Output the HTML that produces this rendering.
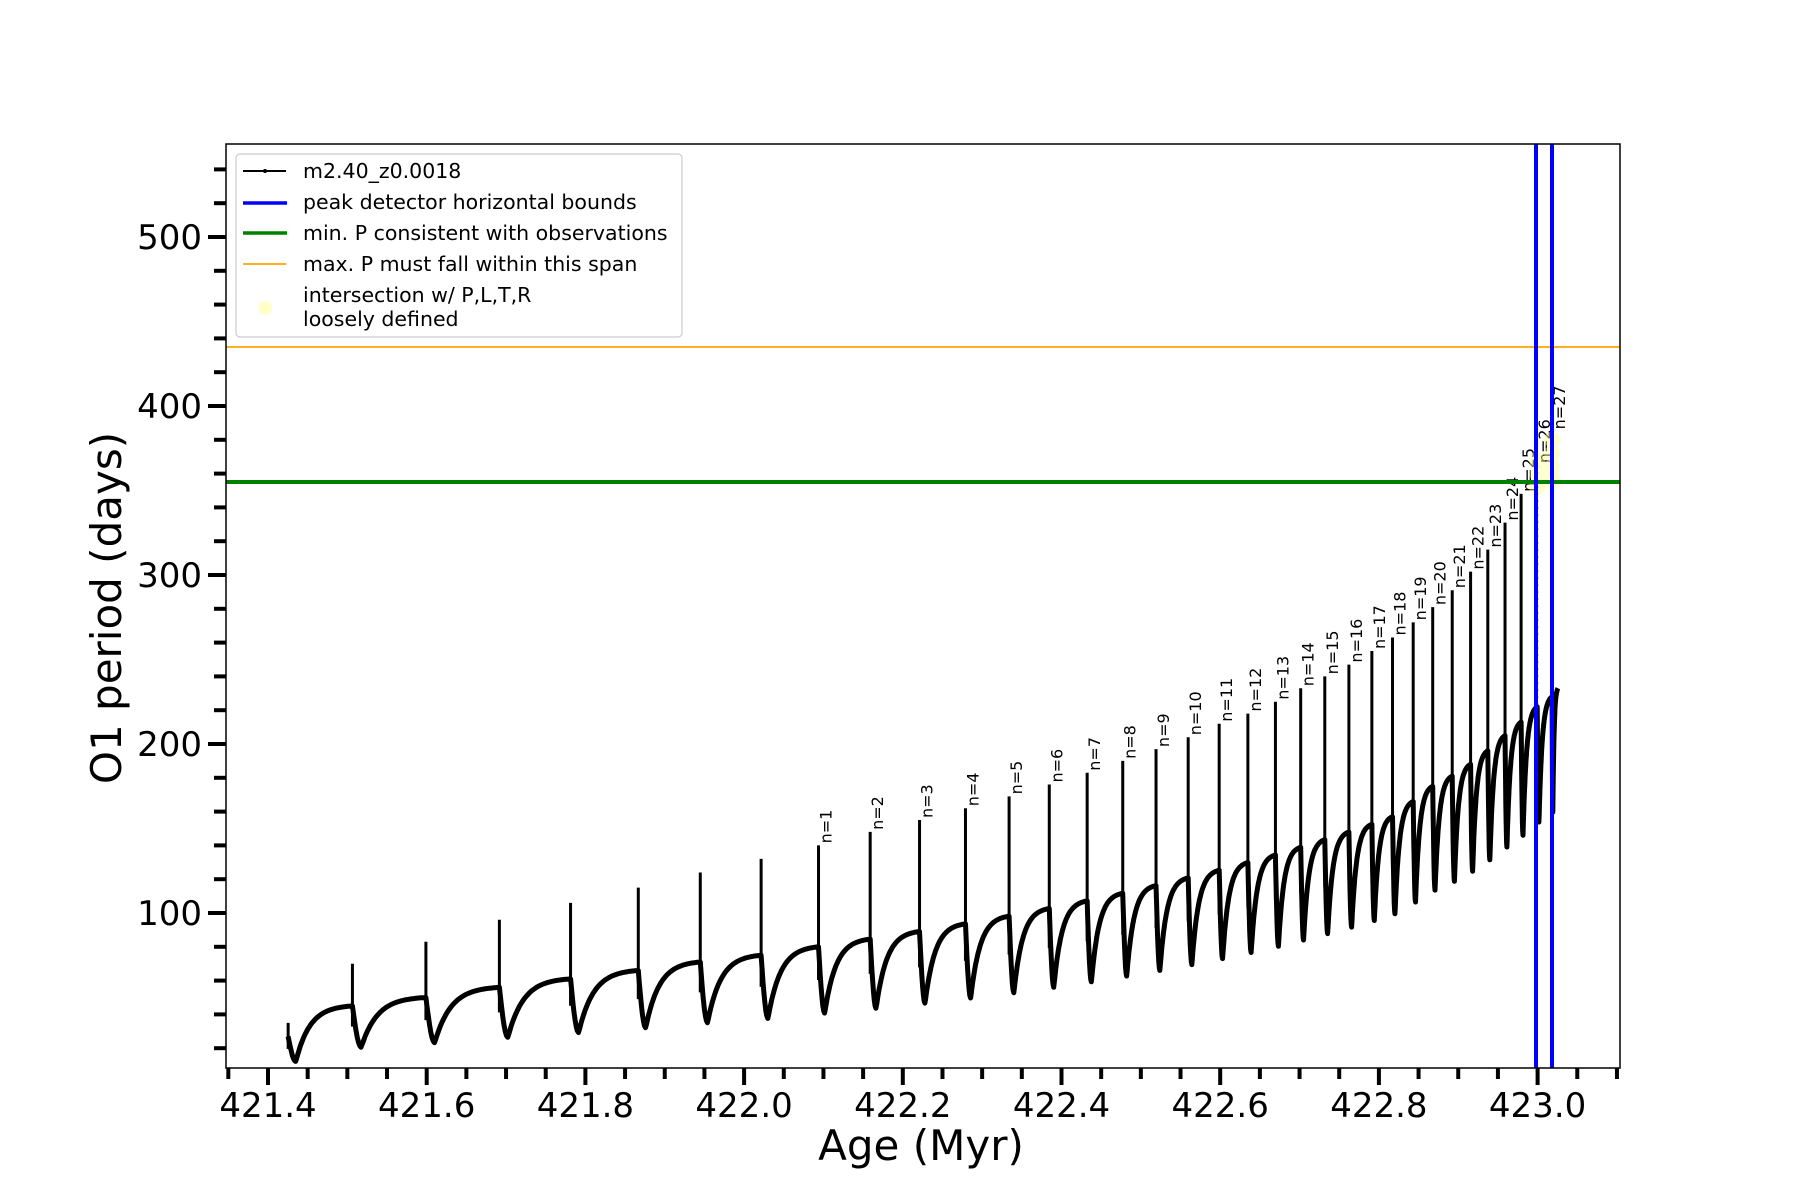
<!DOCTYPE html>
<html><head><meta charset="utf-8"><style>
html,body{margin:0;padding:0;background:#fff;}
svg{display:block;font-family:"DejaVu Sans","Liberation Sans",sans-serif;}
</style></head><body>
<svg id="s" width="1800" height="1200" xmlns="http://www.w3.org/2000/svg">
<rect width="1800" height="1200" fill="#fff"/>
<g id="data"></g>
<line x1="226" y1="347" x2="1620" y2="347" stroke="orange" stroke-width="1.8"/>
<line x1="226" y1="482" x2="1620" y2="482" stroke="green" stroke-width="4"/>
<line x1="1536" y1="144" x2="1536" y2="1068" stroke="blue" stroke-width="4"/>
<line x1="1552" y1="144" x2="1552" y2="1068" stroke="blue" stroke-width="4"/>
<rect x="226" y="144" width="1394" height="924" fill="none" stroke="#000" stroke-width="1.5"/>
<g id="ticks"></g>
<text x="921" y="1160" font-size="42" text-anchor="middle">Age (Myr)</text>
<text transform="translate(121,608) rotate(-90)" font-size="42" text-anchor="middle">O1 period (days)</text>
<g>
<rect x="236" y="154" width="446" height="183" rx="4" fill="#fff" fill-opacity="0.85" stroke="#ccc" stroke-width="1.2"/>
<line x1="243" y1="171" x2="286" y2="171" stroke="#000" stroke-width="2"/><circle cx="265" cy="171" r="2" fill="#000"/>
<line x1="243" y1="203" x2="287" y2="203" stroke="blue" stroke-width="3.5"/>
<line x1="243" y1="233" x2="287" y2="233" stroke="green" stroke-width="3.5"/>
<line x1="243" y1="264" x2="286" y2="264" stroke="orange" stroke-width="1.8"/>
<circle cx="265" cy="308" r="7" fill="#ffffaa" fill-opacity="0.6"/>
<g font-size="20.5" fill="#000">
<text x="303" y="178">m2.40_z0.0018</text>
<text x="303" y="209">peak detector horizontal bounds</text>
<text x="303" y="240">min. P consistent with observations</text>
<text x="303" y="271">max. P must fall within this span</text>
<text x="303" y="302">intersection w/ P,L,T,R</text>
<text x="303" y="326">loosely defined</text>
</g></g>
</svg>
<script>
const NS="http://www.w3.org/2000/svg";
function el(t,a,p,txt){const e=document.createElementNS(NS,t);for(const k in a)e.setAttribute(k,a[k]);if(txt!==undefined)e.textContent=txt;p.appendChild(e);return e;}
const X=a=>268+(a-421.4)*793.5, Y=v=>913-(v-100)*1.69;
const tk=document.getElementById('ticks');
for(let i=0;i<=35;i++){const a=421.35+i*0.05;const x=X(a);const maj=Math.abs((a*5)-Math.round(a*5))<1e-6;
 el('line',{x1:x,y1:1068,x2:x,y2:1068+(maj?17:11),stroke:'#000','stroke-width':4},tk);
 if(maj)el('text',{x:x,y:1117,'font-size':34,'text-anchor':'middle'},tk,a.toFixed(1));}
for(let v=20;v<=540;v+=20){const y=Y(v);const maj=v%100==0;
 el('line',{x1:226,y1:y,x2:226-(maj?18:12),y2:y,stroke:'#000','stroke-width':4},tk);
 if(maj)el('text',{x:202,y:y+12,'font-size':34,'text-anchor':'end'},tk,v);}
const xd=[251,307,371,435,497,556,610,663,713,758,801,841,879,914,947,978,1007,1035,1062,1087,1111,1133,1154,1175,1195,1213,1231,1248,1265,1281,1296,1311,1325,1339,1352];
const px=xd.map(v=>v*1.148);
const peaks=[35,70,83,96,106,115,124,132,140,148,155,162,169,176,183,190,197,204,212,218,225,233,240,247,255,263,272,281,291,302,315,331,348,365,385];
const base=[27,45,50,56,61,66,71,75];
for(let i=8;i<=25;i++)base.push(80+4.53*(i-8));
base.push(166,175,181,188,196,205,213,222,228);
const g=document.getElementById('data');
let pts=[];
const N=px.length;
for(let i=0;i<N;i++){
 const x0=px[i],x1=(i<N-1?px[i+1]:1558),b0=base[i],b1=(i<N-1?base[i+1]:233);
 const mn=b0*(0.45+0.25*i/34);
 const steps=60;
 for(let s=0;s<=steps;s++){const t=s/steps;let y;
  if(t<0.12)y=b0+(mn-b0)*Math.sin(t/0.12*Math.PI/2);
  else{const u=(t-0.12)/0.88;y=mn+(b1-mn)*(1-Math.exp(-4*u))/(1-Math.exp(-4));}
  pts.push((x0+(x1-x0)*t).toFixed(1)+','+Y(y).toFixed(1));}
 const dotted=i>=33;
 el('line',{x1:x0,y1:Y(peaks[i]),x2:x0,y2:Y((b0+mn)/2),stroke:'#000','stroke-width':dotted?2:3,'stroke-dasharray':dotted?'2 5':'none'},g);
 if(i>=8){const tx=x0+13,ty=Y(peaks[i])-2;
  el('text',{transform:`translate(${tx},${ty}) rotate(-90)`,'font-size':16},g,'n='+(i-7));}
}
el('polyline',{points:pts.join(' '),fill:'none',stroke:'#000','stroke-width':5,'stroke-linejoin':'round'},g);
for(const [x,v] of [[1537,352],[1537,360],[1537,368],[1552,356],[1552,364],[1552,372],[1552,380]])
 el('circle',{cx:x,cy:Y(v),r:8,fill:'#ffff88','fill-opacity':0.45},g);
</script>
</body></html>
